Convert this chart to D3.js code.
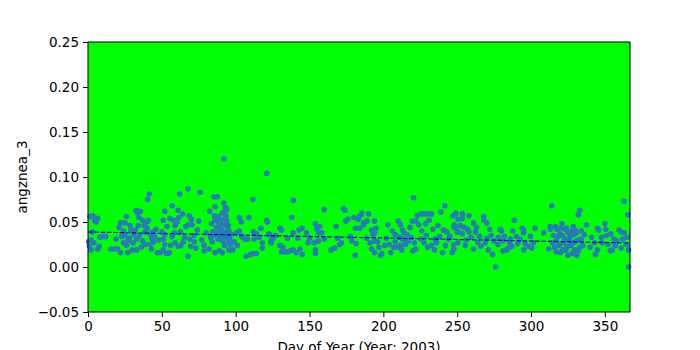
<!DOCTYPE html>
<html>
<head>
<meta charset="utf-8">
<script src="https://cdn.jsdelivr.net/npm/d3@7"></script>
<style>
  body { margin: 0; background: #fff; }
  text { font-family: "DejaVu Sans", sans-serif; }
</style>
</head>
<body>
<script>
// axis settings
const xTicks = [0, 50, 100, 150, 200, 250, 300, 350];
const yTicks = [-0.05, 0.00, 0.05, 0.10, 0.15, 0.20, 0.25];
const xLabel = 'Day of Year (Year: 2003)';
const yLabel = 'angznea_3';

const points = [
  [1.4,0.056],[3.2,0.057],[6.5,0.054],[5.4,0.050],[3,0.039],[2,0.030],[4,0.027],[7.6,0.023],[6.5,0.020],[2,0.019],
  [10,0.034],[12,0.034],[15.5,0.020],[18,0.020],[20,0.020],[22,0.049],[25,0.049],[26,0.056],[24,0.040],[25,0.035],
  [23,0.034],[28,0.032],[27,0.029],[24,0.027],[22,0.016],[27,0.016],[30,0.019],[32.5,0.063],[33.5,0.060],[35.5,0.062],
  [32,0.041],[34,0.046],[31,0.036],[33,0.031],[33,0.019],[37,0.029],[39,0.025],[40.4,0.075],[41.5,0.081],[37,0.052],
  [40,0.050],[40,0.043],[38.7,0.039],[41,0.052],[42,0.037],[43,0.032],[42,0.025],[43,0.020],[45,0.034],[44,0.039],
  [47,0.016],[49,0.016],[51,0.019],[52,0.062],[51,0.052],[50,0.039],[52,0.036],[51,0.031],[52,0.025],[53,0.015],
  [54,0.015],[55,0.016],[55.5,0.054],[57,0.068],[57,0.034],[58,0.052],[59,0.046],[59,0.027],
  [0.5,0.028],[1,0.023],[4.5,0.052],[8,0.033],[21,0.044],[26,0.024],[29,0.041],[30.5,0.027],[35,0.035],[36,0.022],
  [38,0.046],[44.5,0.028],[46,0.042],[48,0.030],[53.5,0.045],[56,0.024],[58.5,0.038],[34.5,0.055],[28.5,0.046],[19,0.031],
  [62,0.081],[67.7,0.087],[76,0.083],[92,0.120],[121,0.104],[61,0.063],[64,0.059],[61.5,0.055],[60.3,0.050],[68.5,0.057],
  [70,0.053],[68,0.047],[70.5,0.047],[75,0.051],[62.5,0.039],[65.5,0.033],[69,0.031],[72,0.035],[63,0.024],[61,0.023],
  [69.5,0.023],[67.7,0.012],[78.6,0.024],[78.6,0.018],[82,0.020],[82.5,0.062],[85.3,0.078],[87.5,0.078],[86,0.067],[83.6,0.048],
  [86,0.052],[88,0.050],[89,0.045],[84.5,0.039],[87,0.038],[90,0.034],[88,0.031],[92,0.071],[92.5,0.062],[93.5,0.057],
  [94,0.051],[94.5,0.044],[92.5,0.038],[93.5,0.033],[94.5,0.027],[92.5,0.024],[96,0.031],[97,0.036],[89,0.018],[86,0.016],
  [91,0.016],[95.5,0.019],[98,0.019],[102.5,0.055],[103.8,0.050],[100.5,0.038],[102.5,0.040],[106,0.031],[108,0.031],[109,0.055],
  [107,0.012],[110,0.014],[112,0.015],[114,0.015],[111.7,0.075],[112,0.039],[112.5,0.031],[114,0.037],[116,0.033],[118,0.027],
  [118,0.021],[121,0.052],[121.5,0.050],[122.5,0.037],[124,0.029],
  [90.5,0.041],[91.5,0.047],[93,0.054],[95,0.046],[84,0.028],[85,0.035],[80,0.038],[74,0.041],[72,0.028],[66,0.045],
  [91,0.060],[93,0.066],[94,0.064],[95.5,0.040],[96.5,0.025],[89.5,0.038],[87,0.044],[90,0.052],[91,0.029],[95,0.034],
  [85.5,0.057],[88.5,0.056],[83,0.033],[77,0.030],[73,0.021],[64.5,0.028],[99,0.028],[101,0.024],[104,0.034],[117,0.043],
  [123,0.036],[125,0.031],[124,0.027],[127,0.035],[131,0.041],[130,0.043],[130,0.024],[132,0.022],[131,0.017],[133,0.017],
  [135,0.017],[137,0.018],[139,0.019],[141,0.016],[145,0.014],[143.6,0.020],[139,0.074],[138,0.055],[135,0.032],[139,0.038],
  [142,0.032],[143,0.041],[145,0.043],[148,0.038],[149,0.027],[150,0.032],[153,0.027],[154,0.019],[154,0.015],[154,0.048],
  [155,0.043],[157,0.045],[156,0.038],[158.4,0.038],[156,0.029],[160,0.064],[160,0.031],[164.6,0.019],[167,0.021],[168,0.045],
  [169,0.032],[170.5,0.025],[171.6,0.027],[173,0.065],[174,0.063],[174.6,0.051],[176,0.053],[177.6,0.034],[178.6,0.029],[180,0.055],
  [181,0.043],[181.6,0.026],[181,0.013],[183,0.053],[184,0.057],[185,0.058],[184,0.043],[186.6,0.049],
  [185.5,0.060],[190,0.059],[186.6,0.047],[189,0.051],[194,0.051],[192,0.041],[194,0.038],[195,0.043],[193,0.036],[188.7,0.032],
  [194,0.029],[196,0.028],[192,0.020],[194,0.016],[198,0.013],[199,0.015],[201,0.024],[204,0.025],[205,0.016],[203,0.047],
  [206,0.040],[208,0.036],[210,0.051],[211.7,0.047],[213,0.041],[214,0.038],[211,0.033],[215,0.029],[207,0.022],[209.5,0.022],
  [211.7,0.024],[215,0.025],[217,0.029],[219,0.033],[219.5,0.051],[222,0.051],[223,0.057],[220.5,0.077],[224,0.047],[225.5,0.059],
  [227.6,0.059],[230,0.059],[232.6,0.059],[231,0.052],[233.6,0.042],[222,0.020],[220,0.018],[225.5,0.031],[227.6,0.027],[230,0.022],
  [232.6,0.024],[234.6,0.019],[236,0.027],[238,0.034],[239,0.061],[241.6,0.068],[240.6,0.041],[243,0.039],[244,0.031],[245,0.034],
  [240,0.016],[246.6,0.016],[247,0.057],[249,0.059],[248,0.047],[249,0.044],[250,0.039],[247.6,0.025],
  [208,0.028],[212.5,0.019],[216,0.036],[218,0.044],[221,0.027],[226,0.040],[229,0.035],[235,0.031],[237,0.046],[242,0.024],
  [202,0.032],[197,0.022],[191,0.027],[213,0.031],[228.5,0.048],
  [249,0.060],[253.5,0.059],[253.5,0.054],[250.5,0.053],[258,0.057],[247.8,0.044],[254.6,0.044],[257,0.042],[258,0.039],[251,0.039],
  [253.5,0.037],[250.5,0.027],[247.8,0.020],[261,0.049],[262.4,0.039],[265,0.034],[264,0.027],[261,0.020],[268,0.056],[268,0.052],
  [270,0.049],[272,0.042],[270,0.032],[269,0.027],[271,0.019],[274,0.014],[275,0.029],[277.6,0.025],[276,0.000],[279,0.042],
  [280,0.040],[281,0.029],[282,0.034],[283.5,0.019],[281,0.018],[284.7,0.021],[287,0.023],[285.6,0.027],[287.6,0.040],[288.6,0.052],
  [290,0.034],[294,0.043],[295,0.041],[295,0.038],[292.6,0.031],[296,0.026],[295,0.019],[298,0.023],[299.6,0.034],[300.5,0.021],
  [302.7,0.043],[301.6,0.027],[308.6,0.038],
  [256,0.030],[259.5,0.033],[263,0.044],[266,0.023],[252,0.046],[255.5,0.024],[273,0.035],[278,0.033],[286,0.031],[291,0.026],
  [314,0.068],[333,0.063],[332,0.058],[363,0.073],[365.5,0.058],[366,0.000],[313,0.045],[313,0.042],[316.5,0.045],[317.5,0.042],
  [320,0.043],[321,0.048],[323,0.042],[324,0.043],[325,0.038],[327,0.039],[330,0.041],[331,0.038],[329,0.036],[314.6,0.027],
  [317,0.029],[316,0.022],[319,0.024],[321.6,0.019],[320,0.016],[323.6,0.019],[325,0.013],[327,0.024],[329.6,0.019],[331,0.013],
  [332,0.018],[333,0.022],[328,0.027],[323,0.031],[335,0.024],[337.6,0.047],[336,0.036],[341,0.033],[343,0.027],[345,0.043],
  [346,0.041],[345,0.019],[343.6,0.014],[347.6,0.033],[350,0.048],[350.6,0.042],[351,0.035],[352,0.025],[353.6,0.018],[355,0.019],
  [357,0.024],[359.6,0.041],[360.6,0.039],[362,0.031],[363,0.038],[364.6,0.025],[366,0.019],[365,0.033],[356,0.031],[348,0.027],
  [318,0.034],[326,0.030],[330,0.028],[334,0.031],[312,0.020],[315,0.035],[340,0.022],[358,0.029],[361,0.021],[354,0.037],
  [319.5,0.037],[322,0.027],[324.5,0.023],[326.5,0.034],[328.5,0.045],[331.5,0.030],[334,0.040],[321,0.035],[317,0.017],[328,0.015]
];

// linear trend end points
const trendDays = [0, 366];
const trendValues = [0.0389, 0.0267];

const width = 700, height = 350;
const margin = { left: 88, right: 70, top: 42, bottom: 38 };

const svg = d3.select('body').append('svg')
  .attr('width', width)
  .attr('height', height);

const x = d3.scaleLinear().domain([0, 367]).range([margin.left, width - margin.right]);
const y = d3.scaleLinear().domain([-0.05, 0.25]).range([height - margin.bottom, margin.top]);

// plot background
svg.append('rect')
  .attr('x', x.range()[0])
  .attr('y', y.range()[1])
  .attr('width', x.range()[1] - x.range()[0])
  .attr('height', y.range()[0] - y.range()[1])
  .attr('fill', '#00ff00');

// scatter
svg.append('g')
  .selectAll('circle')
  .data(points)
  .join('circle')
  .attr('cx', d => x(d[0]))
  .attr('cy', d => y(d[1]))
  .attr('r', 2.8)
  .attr('fill', '#2a7ab9');

// trend line
const line = d3.line().x(d => x(d[0])).y(d => y(d[1]));
svg.append('path')
  .attr('d', line(trendDays.map((d, i) => [d, trendValues[i]])))
  .attr('fill', 'none')
  .attr('stroke', '#0000dd')
  .attr('stroke-width', 1.2)
  .attr('stroke-dasharray', '4.5,1.8');

// frame
svg.append('rect')
  .attr('x', x.range()[0])
  .attr('y', y.range()[1])
  .attr('width', x.range()[1] - x.range()[0])
  .attr('height', y.range()[0] - y.range()[1])
  .attr('fill', 'none')
  .attr('stroke', '#000')
  .attr('stroke-width', 1);

// axes
const xAxis = svg.append('g')
  .attr('transform', `translate(0,${y.range()[0]})`)
  .call(d3.axisBottom(x).tickValues(xTicks).tickSize(5).tickPadding(4).tickFormat(d3.format('d')));
const yAxis = svg.append('g')
  .attr('transform', `translate(${x.range()[0]},0)`)
  .call(d3.axisLeft(y).tickValues(yTicks).tickSize(5).tickPadding(4).tickFormat(d => d3.format('.2f')(d).replace('-', '\u2212')));

[xAxis, yAxis].forEach(a => {
  a.select('.domain').remove();
  a.selectAll('text').attr('font-size', 13.5).attr('fill', '#000').attr('font-family', 'DejaVu Sans');
  a.selectAll('line').attr('stroke', '#000');
});

// x label sits partly below the window edge, as in the original
svg.append('text')
  .attr('x', (x.range()[0] + x.range()[1]) / 2)
  .attr('y', 352)
  .attr('text-anchor', 'middle')
  .attr('font-size', 13.5)
  .text(xLabel);

svg.append('text')
  .attr('transform', `translate(27,${(y.range()[0] + y.range()[1]) / 2}) rotate(-90)`)
  .attr('text-anchor', 'middle')
  .attr('font-size', 13.5)
  .text(yLabel);
</script>
</body>
</html>
